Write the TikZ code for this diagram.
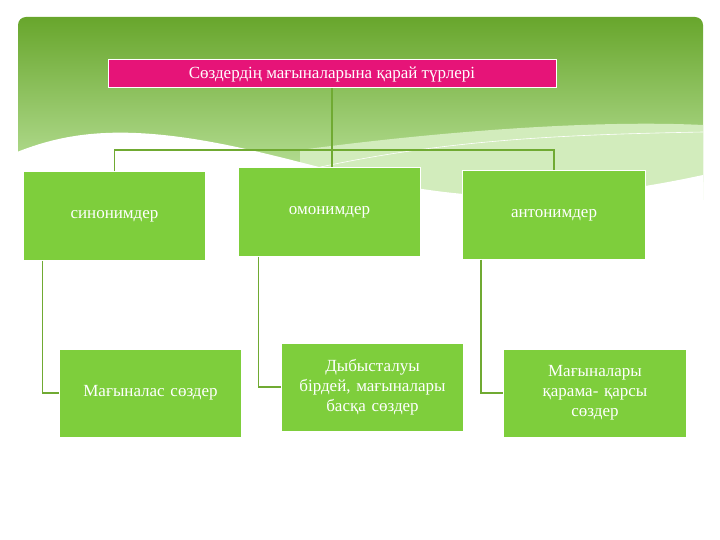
\documentclass[tikz,border=0pt]{standalone}
\usepackage{fontspec}
\setmainfont{Liberation Serif}
\usetikzlibrary{positioning}
\definecolor{darkgreen}{RGB}{104,166,44}
\definecolor{boxgreen}{RGB}{126,206,60}
\definecolor{lightgreen}{RGB}{190,228,160}
\definecolor{titlepink}{RGB}{230,20,120}
\definecolor{linegreen}{RGB}{112,170,50}
\tikzset{
  kind/.style={draw=white,line width=1pt,fill=boxgreen,minimum width=179pt,minimum height=88pt,
    text width=176pt,align=center,text=white,font=\fontsize{17}{20}\selectfont},
  desc/.style={kind,minimum width=179pt},
  link/.style={draw=linegreen,line width=1.5pt},
}
\begin{document}
\begin{tikzpicture}[x=1pt,y=-1pt]
\useasboundingbox (0,0) rectangle (720,540);
% background
\shade[top color=darkgreen,bottom color=lightgreen,rounded corners=8pt]
  (18,190) -- (18,17) -- (703,17) -- (703,190) -- cycle;
\fill[lightgreen!70] (300,150) .. controls (450,130) and (600,120) .. (703,125)
  -- (703,200) -- (300,200) -- cycle;
\fill[white] (17,152) .. controls (60,135) and (110,125) .. (200,140)
  .. controls (350,165) and (450,230) .. (703,175) -- (703,200) -- (17,200) -- cycle;
\draw[white,line width=0.6pt] (230,190) .. controls (400,140) and (550,135) .. (703,132);
\node[draw=white,line width=1pt,fill=titlepink,minimum width=448pt,minimum height=28pt,
  text=white,font=\fontsize{17}{20}\selectfont] (title) at (332,74) {Сөздердің мағыналарына қарай түрлері};
\node[kind] (syn) at (114.5,216) {синонимдер};
\node[kind] (hom) at (329.5,212) {омонимдер};
\node[kind] (ant) at (554,215) {антонимдер};
\node[desc] (syndesc) at (150.5,393) {Мағыналас сөздер};
\node[desc] (homdesc) at (372.5,387) {Дыбысталуы\\бірдей, мағыналары\\басқа сөздер};
\node[desc] (antdesc) at (595,393) {Мағыналары\\қарама- қарсы\\сөздер};
% connectors
\draw[link] (title.south) -- (332,150) coordinate (mid);
\draw[link] (syn.north) -- (syn.north |- mid) -- (ant.north |- mid) -- (ant.north);
\draw[link] (mid) -- (mid |- hom.north);
\draw[link] ([xshift=-72pt]syn.south) |- (syndesc.west);
\draw[link] ([xshift=-71pt]hom.south) |- (homdesc.west);
\draw[link] ([xshift=-73pt]ant.south) |- (antdesc.west);
\end{tikzpicture}
\end{document}
